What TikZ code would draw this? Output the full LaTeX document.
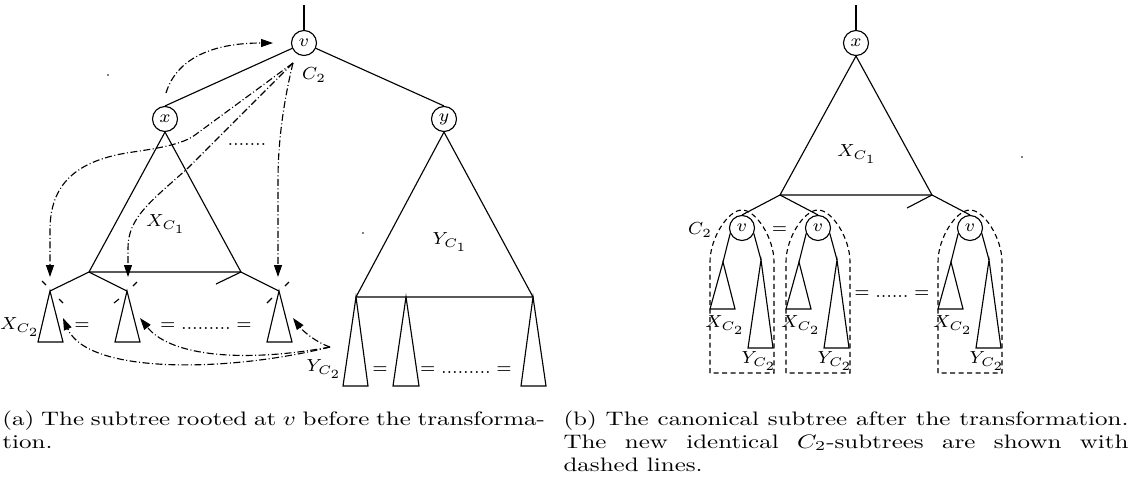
\documentclass[tikz,border=0pt]{standalone}
\usetikzlibrary{arrows.meta}
\newcommand\labfont{\fontsize{7}{8.5}\selectfont}
\newcommand\capfont{\fontsize{10}{12}\selectfont}
\newcommand\mydot{\hbox to 2.2pt{\hss.\hss}}
\newcommand\vsq[1]{\scalebox{1}[0.78]{#1}}
\tikzset{
  vert/.style={circle, draw, line width=0.45pt, minimum size=10pt, inner sep=0pt, font=\labfont},
  lbl/.style={inner sep=0pt, font=\labfont},
  eqs/.style={inner sep=0pt, font=\labfont, anchor=base},
  edge/.style={line width=0.45pt},
  dd/.style={line width=0.45pt, dash pattern=on 2.8pt off 1pt on 0.4pt off 1pt},
  ddarrow/.style={dd, -{Triangle[length=4.8pt,width=3.2pt]}},
  dome/.style={line width=0.45pt, dash pattern=on 2pt off 1.4pt},
  captxt/.style={inner sep=0pt, anchor=base west, font=\capfont},
}
\begin{document}
\begin{tikzpicture}[x=0.4pt,y=-0.4pt]
\fill[white] (0,0) rectangle (1131,494);
\useasboundingbox (0,0) rectangle (1131,494);

% ---------------- (a) ----------------
\coordinate (rootA) at (304,5);
\node[vert] (vA) at (304,43) {$v$};
\node[vert] (xA) at (165,119) {$x$};
\node[vert] (yA) at (444,119) {$y$};
\draw[edge] (rootA) -- (vA);
\draw[edge] (vA) -- (xA.north);
\draw[edge] (vA) -- (yA.north);

\coordinate (xl) at (89,272);
\coordinate (xr) at (241,272);
\draw[edge] (xA.south) -- (xl) -- (xr) -- cycle;
\coordinate (s1) at (50,291);
\coordinate (s2) at (127,291);
\coordinate (s3) at (279,291);
\coordinate (stubA) at (216,284);
\draw[edge] (xl) -- (s1);
\draw[edge] (xl) -- (s2);
\draw[edge] (xr) -- (stubA);
\draw[edge] (xr) -- (s3);
\draw[edge] (s1) -- (38,342) -- (63,342) -- cycle;
\draw[edge] (s2) -- (115,342) -- (140,342) -- cycle;
\draw[edge] (s3) -- (267,342) -- (292,342) -- cycle;
% little cut marks at the apexes
\draw[edge] ([shift={(-8,-10)}]s1) -- ([shift={(-4,-6)}]s1);
\draw[edge] ([shift={(9,8)}]s1) -- ([shift={(13,12)}]s1);
\draw[edge] ([shift={(6,-5)}]s2) -- ([shift={(10,-9)}]s2);
\draw[edge] ([shift={(-13,12)}]s2) -- ([shift={(-8,8)}]s2);
\draw[edge] ([shift={(6,-5)}]s3) -- ([shift={(10,-9)}]s3);
\draw[edge] ([shift={(-12,12)}]s3) -- ([shift={(-7,7)}]s3);

\coordinate (yl) at (356,297);
\coordinate (ym) at (406,297);
\coordinate (yr) at (533,297);
\draw[edge] (yA.south) -- (yl) -- (yr) -- cycle;
\draw[edge] (yl) -- (343,386) -- (368,386) -- cycle;
\draw[edge] (ym) -- (393,386) -- (419,386) -- cycle;
\draw[edge] (yr) -- (521,386) -- (546,386) -- cycle;

\node[lbl] (lc2a) at (314,75) {$C_2$};
\node[lbl] (lxc1a) at (166,224) {$X_{C_1}$};
\node[lbl] (lyc1a) at (450,242) {$Y_{C_1}$};
\node[lbl] (lxc2a) at (20,327) {$X_{C_2}$};
\node[lbl] (lyc2a) at (324,369) {$Y_{C_2}$};
\node[eqs] (eqa1) at (82,329) {$=$};
\node[eqs] (eqa2) at (206,329) {$=\mydot\mydot\mydot\mydot\mydot\mydot\mydot\mydot\mydot=$};
\node[eqs] (eqa3) at (380,373.5) {$=$};
\node[eqs] (eqa4) at (466,373) {$=\mydot\mydot\mydot\mydot\mydot\mydot\mydot\mydot\mydot=$};
\node[eqs] (dotsa) at (247,145) {\mydot\mydot\mydot\mydot\mydot\mydot\mydot};

% dash-dotted arrows
\coordinate (a1s) at (166,93);
\coordinate (a1e) at (273,43);
\draw[ddarrow] (a1s) .. controls (176,60) and (210,43) .. (a1e);
\coordinate (csrc) at (293,63);
\coordinate (t1) at (50,277);
\coordinate (t2) at (128,277);
\coordinate (t3) at (278,277);
\draw[ddarrow] (csrc) -- (195,135) .. controls (183,144) and (160,148) .. (133,152)
   .. controls (75,160) and (50,185) .. (50,230) -- (t1);
\draw[ddarrow] (csrc) -- (188,168) .. controls (150,202) and (128,218) .. (128,248) -- (t2);
\draw[ddarrow] (csrc) .. controls (284,100) and (278,140) .. (278,180) -- (t3);
\coordinate (ysrc) at (330,347);
\coordinate (u1) at (63,318);
\coordinate (u2) at (140,318);
\coordinate (u3) at (293,318);
\draw[ddarrow] (ysrc) .. controls (315,342) and (302,330) .. (u3);
\draw[ddarrow] (ysrc) .. controls (250,362) and (172,358) .. (u2);
\draw[ddarrow] (ysrc) .. controls (230,372) and (88,375) .. (u1);

% stray dots
\fill (108,75) circle (0.35pt);
\fill (363,233) circle (0.35pt);
\fill (1022,157) circle (0.35pt);

% ---------------- (b) ----------------
\coordinate (rootB) at (856,5);
\node[vert] (xB) at (856,43) {$x$};
\draw[edge] (rootB) -- (xB);
\coordinate (bl) at (780,195);
\coordinate (br) at (932,195);
\coordinate (stubB) at (907,208);
\draw[edge] (xB.south) -- (bl) -- (br) -- cycle;
\node[lbl] (lxc1b) at (857,154) {$X_{C_1}$};

\foreach \cx/\n in {742/1, 818/2, 970/3} {
  \node[vert] (vB\n) at (\cx,228) {$v$};
  \coordinate (la\n) at (\cx-19,262);
  \coordinate (ra\n) at (\cx+19,260);
  \draw[edge] (vB\n.205) -- (la\n);
  \draw[edge] (vB\n.-25) -- (ra\n);
  \draw[edge] (la\n) -- (\cx-32,309) -- (\cx-7,309) -- cycle;
  \draw[edge] (ra\n) -- (\cx+6,348) -- (\cx+31,348) -- cycle;
  \draw[dome] (\cx-32,373) -- (\cx-32,262) .. controls (\cx-32,238) and (\cx-14,210) .. (\cx,210)
     .. controls (\cx+14,210) and (\cx+32,238) .. (\cx+32,262) -- (\cx+32,373) -- cycle;
  \node[lbl] (lxc2b\n) at (\cx-17,325) {$X_{C_2}$};
  \node[lbl] (lyc2b\n) at (\cx+17,361) {$Y_{C_2}$};
}
\draw[edge] (bl) -- (vB1.north);
\draw[edge] (bl) -- (vB2.north);
\draw[edge] (br) -- (vB3.north);
\draw[edge] (br) -- (stubB);
\node[lbl] (lc2b) at (700,230) {$C_2$};
\node[eqs] (eqb1) at (779.5,233.5) {$=$};
\node[eqs] (eqb2) at (892,297) {$=\mydot\mydot\mydot\mydot\mydot\mydot=$};

% ---------------- captions ----------------
\node[captxt] (capa1) at (2,425) {\vsq{\makebox[217pt][s]{(a) The subtree rooted at $v$ before the transforma-}}};
\node[captxt] (capa2) at (2,448) {\vsq{tion.}};
\node[captxt] (capb1) at (563,425) {\vsq{\makebox[226pt][s]{(b) The canonical subtree after the transformation.}}};
\node[captxt] (capb2) at (563,448) {\vsq{\makebox[226pt][s]{The new identical $C_2$-subtrees are shown with}}};
\node[captxt] (capb3) at (563,471) {\vsq{dashed lines.}};
\end{tikzpicture}
\end{document}
